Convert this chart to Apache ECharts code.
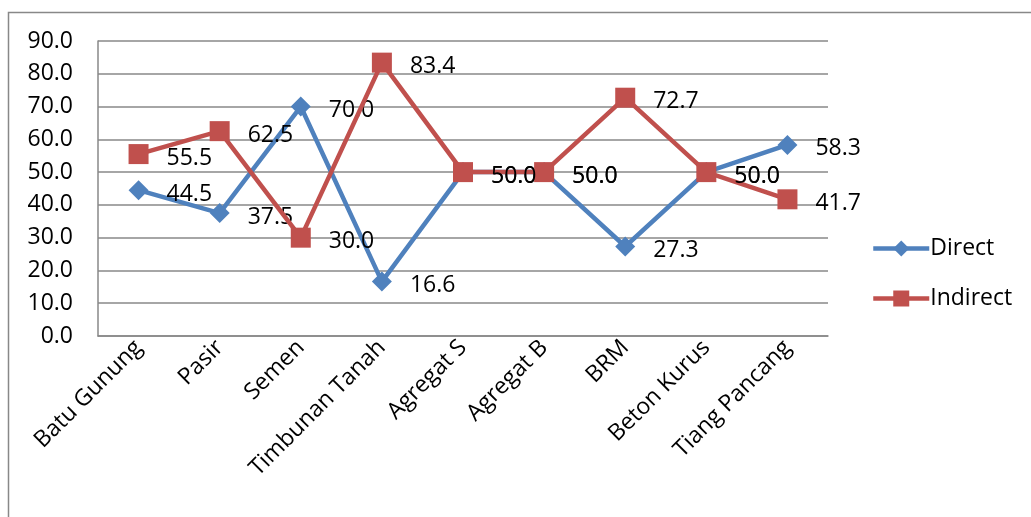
<!DOCTYPE html>
<html><head><meta charset="utf-8">
<script src="https://cdn.jsdelivr.net/npm/echarts@6/dist/echarts.min.js"></script>
<style>html,body{margin:0;padding:0;background:#fff}#c{width:1031px;height:517px}</style>
</head><body><div id="c"></div>
<script>
var categories = ['Batu Gunung','Pasir','Semen','Timbunan Tanah','Agregat S','Agregat B','BRM','Beton Kurus','Tiang Pancang'];
var directValues = [44.5, 37.5, 70.0, 16.6, 50.0, 50.0, 27.3, 50.0, 58.3];
var indirectValues = [55.5, 62.5, 30.0, 83.4, 50.0, 50.0, 72.7, 50.0, 41.7];
var seriesNames = ['Direct','Indirect'];

var FONT = 'Open Sans';
var FS = 23;
var chart = echarts.init(document.getElementById('c'), null, {renderer:'canvas'});
var lbl = {show:true, position:'right', distance:18, offset:[0,4], color:'#000', fontSize:FS, fontFamily:FONT,
  formatter:function(p){return p.value.toFixed(1);}};
chart.setOption({
  animation:false,
  graphic:[{type:'rect', shape:{x:8.5,y:12.5,width:1040,height:520}, style:{fill:null, stroke:'#888', lineWidth:1.5}, silent:true}],
  grid:{left:98, right:203, top:41, bottom:181, containLabel:false},
  legend:{orient:'vertical', left:866, top:232, itemGap:27, itemWidth:56, itemHeight:20,
    lineStyle:{width:4.5},
    textStyle:{fontSize:FS, fontFamily:FONT, color:'#000', padding:[0,0,0,-4]}, data:seriesNames},
  xAxis:{type:'category', data:categories, boundaryGap:true,
    axisLine:{lineStyle:{color:'#888', width:1.5}}, axisTick:{show:false},
    axisLabel:{rotate:45, color:'#000', fontSize:FS, fontFamily:FONT, margin:8, interval:0}},
  yAxis:{type:'value', min:0, max:90, interval:10,
    axisLine:{show:true, lineStyle:{color:'#888', width:1.5}}, axisTick:{show:false},
    splitLine:{lineStyle:{color:'#888', width:1.5}},
    axisLabel:{color:'#000', fontSize:FS, fontFamily:FONT, margin:25, formatter:function(v){return v.toFixed(1);}}},
  series:[
    {name:seriesNames[0], type:'line', data:directValues, symbol:'diamond', symbolSize:20,
      lineStyle:{color:'#4F81BD', width:4.5}, itemStyle:{color:'#4F81BD'}, label:lbl, z:2},
    {name:seriesNames[1], type:'line', data:indirectValues, symbol:'rect', symbolSize:20,
      lineStyle:{color:'#C0504D', width:4.5}, itemStyle:{color:'#C0504D'}, label:lbl, z:3}
  ]
});
</script></body></html>
